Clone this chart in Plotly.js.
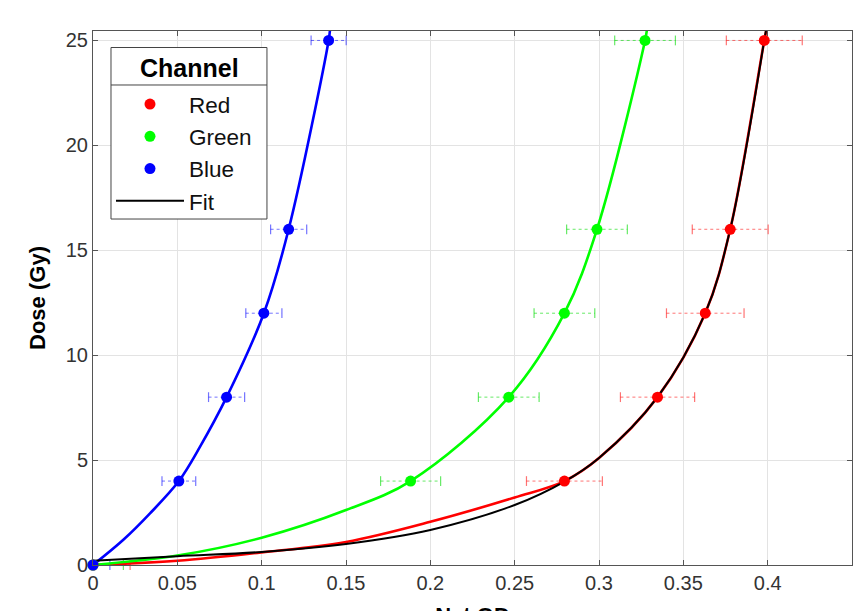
<!DOCTYPE html>
<html>
<head>
<meta charset="utf-8">
<script src="https://cdn.plot.ly/plotly-3.0.1.min.js"></script>
<style>html,body{margin:0;padding:0;background:#fff;overflow:hidden;}#chart{width:855px;height:640px;}</style>
</head>
<body>
<div id="chart"></div>
<script>
// Measured points (Net OD vs Dose)
const dose = [0, 4, 8, 12, 16, 25];
const redOD = [0, 0.2795, 0.3347, 0.363, 0.3778, 0.398];
const greenOD = [0, 0.1883, 0.2465, 0.2795, 0.2988, 0.3273];
const blueOD = [0, 0.0509, 0.0792, 0.1013, 0.116, 0.1397];
const redErr = [0.022, 0.0225, 0.022, 0.023, 0.0225, 0.0225];
const greenErr = [0.018, 0.0178, 0.018, 0.018, 0.018, 0.018];
const blueErr = [0.010, 0.010, 0.0107, 0.0107, 0.0107, 0.0104];

// Curves
const redCurveOD = [0, 0.05, 0.1, 0.15, 0.2, 0.25, 0.2795, 0.3, 0.3347, 0.363, 0.3778, 0.398, 0.3995];
const redCurveDose = [0, 0.2, 0.6, 1.1, 2.06, 3.22, 4, 5.1, 8, 12, 16, 25, 25.6];
const greenCurveOD = [0, 0.05, 0.1, 0.15, 0.1883, 0.2465, 0.2795, 0.2988, 0.3273, 0.3284];
const greenCurveDose = [0, 0.45, 1.3, 2.62, 4, 8, 12, 16, 25, 25.5];
const blueCurveOD = [0, 0.018, 0.0338, 0.0509, 0.0634, 0.0792, 0.1013, 0.116, 0.1397, 0.1405];
const blueCurveDose = [0, 1.2, 2.46, 4, 5.63, 8, 12, 16, 25, 25.5];
const fitOD = [0, 0.05, 0.1, 0.15, 0.2, 0.25, 0.28, 0.3, 0.3347, 0.363, 0.3778, 0.398, 0.4];
const fitDose = [0.2, 0.42, 0.62, 1.0, 1.67, 2.86, 4.0, 5.1, 8, 12, 16, 25, 26];

const channels = [
  {name: 'Red', od: redOD, err: redErr, cx: redCurveOD, cy: redCurveDose, color: '#ff0000', errColor: 'rgba(255,0,0,0.55)'},
  {name: 'Green', od: greenOD, err: greenErr, cx: greenCurveOD, cy: greenCurveDose, color: '#00ff00', errColor: 'rgba(0,220,0,0.6)'},
  {name: 'Blue', od: blueOD, err: blueErr, cx: blueCurveOD, cy: blueCurveDose, color: '#0000ff', errColor: 'rgba(0,0,255,0.55)'}
];

const traces = [];
// error bars (dotted with caps)
channels.forEach(c => {
  const ex = [], ey = [];
  c.od.forEach((v, i) => { ex.push(v - c.err[i], v + c.err[i], null); ey.push(dose[i], dose[i], null); });
  traces.push({x: ex, y: ey, mode: 'lines+markers', showlegend: false, hoverinfo: 'skip',
    line: {color: c.errColor, width: 1, dash: 'dot'},
    marker: {symbol: 'line-ns-open', size: 7, line: {color: c.errColor, width: 1.2}}, cliponaxis: false});
});
// channel curves
channels.forEach(c => {
  traces.push({x: c.cx, y: c.cy, mode: 'lines', showlegend: false,
    line: {color: c.color, width: 2.6, shape: 'spline', smoothing: 1}});
});
// fit
traces.push({x: fitOD, y: fitDose, mode: 'lines', name: 'Fit', legendrank: 4,
  line: {color: '#000000', width: 2, shape: 'spline', smoothing: 1}});
// markers (legend)
channels.forEach((c, k) => {
  traces.push({x: c.od, y: dose, mode: 'markers', name: c.name, legendrank: k + 1, cliponaxis: false,
    marker: {color: c.color, size: 11}});
});

const axisCommon = {
  showline: true, linecolor: '#555', linewidth: 1, mirror: 'ticks',
  ticks: 'inside', ticklen: 5, tickcolor: '#555', tickwidth: 1,
  showgrid: true, gridcolor: '#e3e3e3', gridwidth: 1, zeroline: false,
  tickfont: {family: 'Liberation Sans, Arial, sans-serif', size: 20, color: '#333'}
};

// legend box geometry (paper coords)
const lx0 = 0.0237, lx1 = 0.2292, ly0 = 0.6479, ly1 = 0.9691, lsep = 0.8989;

const layout = {
  width: 855, height: 640,
  margin: {l: 93, r: 3, t: 31, b: 75},
  paper_bgcolor: '#fff', plot_bgcolor: '#fff',
  font: {family: 'Liberation Sans, Arial, sans-serif'},
  xaxis: Object.assign({}, axisCommon, {
    range: [0, 0.45], tickvals: [0, 0.05, 0.1, 0.15, 0.2, 0.25, 0.3, 0.35, 0.4, 0.45],
    ticktext: ['0', '0.05', '0.1', '0.15', '0.2', '0.25', '0.3', '0.35', '0.4', '0.45'],
    title: {text: '<b>Net OD</b>', font: {size: 22, color: '#000'}, standoff: 14}
  }),
  yaxis: Object.assign({}, axisCommon, {
    range: [0, 25.45], tickvals: [0, 5, 10, 15, 20, 25],
    title: {text: '<b>Dose (Gy)</b>', font: {size: 22, color: '#000'}, standoff: 14}
  }),
  legend: {
    x: lx0, y: 0.9027, xanchor: 'left', yanchor: 'top',
    bgcolor: 'rgba(0,0,0,0)', borderwidth: 0,
    font: {size: 22.5, color: '#111'},
    traceorder: 'normal', itemwidth: 68
  },
  annotations: [
    {text: '<b>Channel</b>', xref: 'paper', yref: 'paper', x: 0.1265, y: 0.9307, xanchor: 'center', yanchor: 'middle',
      showarrow: false, font: {size: 25, color: '#000'}}
  ],
  shapes: [
    {type: 'rect', xref: 'paper', yref: 'paper', x0: lx0, x1: lx1, y0: ly0, y1: ly1, layer: 'above',
      fillcolor: '#fff', line: {color: '#444', width: 1}},
    {type: 'line', xref: 'paper', yref: 'paper', x0: lx0, x1: lx1, y0: lsep, y1: lsep, layer: 'above', line: {color: '#444', width: 1}}
  ],
  showlegend: true
};

Plotly.newPlot('chart', traces, layout, {displayModeBar: false, staticPlot: true});
</script>
</body>
</html>
